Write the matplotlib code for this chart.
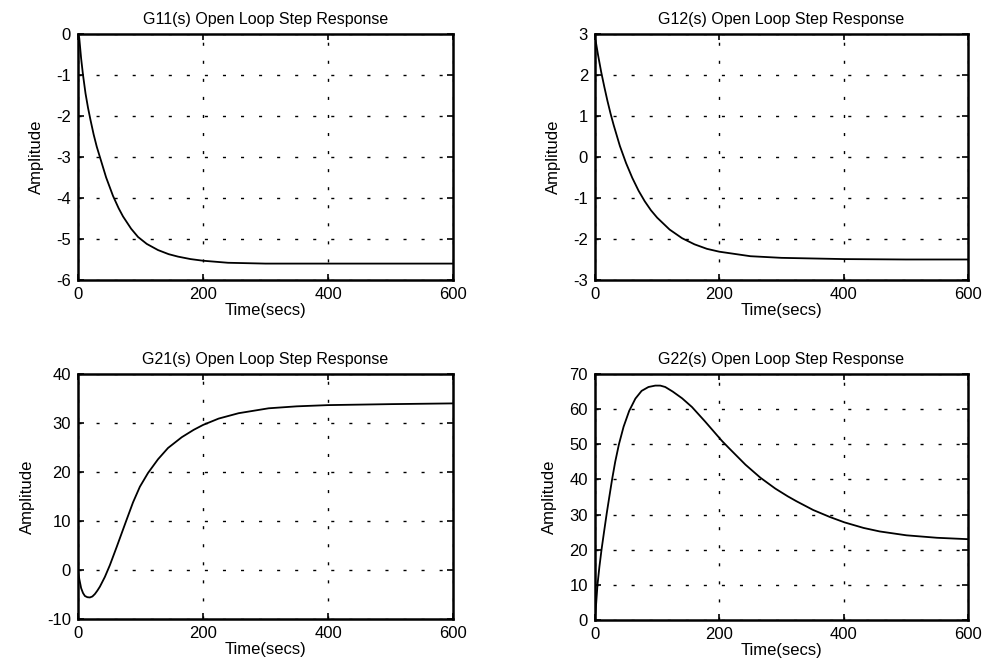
import numpy as np
import matplotlib.pyplot as plt

plt.rcParams['font.family'] = ['Liberation Sans', 'DejaVu Sans']
plt.rcParams['axes.unicode_minus'] = False

# step responses
t11 = [0, 2, 5, 8, 12, 16, 20, 25, 30, 36, 45, 56, 65, 72, 85, 96, 110, 128, 145, 160,
       180, 200, 240, 300, 400, 500, 600]
y11 = [0, -0.1, -0.6, -1.0, -1.45, -1.8, -2.1, -2.45, -2.75, -3.05, -3.5, -3.95, -4.25,
       -4.45, -4.75, -4.95, -5.12, -5.27, -5.37, -5.43, -5.49, -5.53, -5.58, -5.6, -5.6,
       -5.6, -5.6]

t12 = [0, 2, 5, 10, 15, 20, 25, 30, 40, 50, 60, 70, 80, 90, 100, 120, 140, 160, 180, 200,
       250, 300, 400, 500, 600]
y12 = [2.9, 2.75, 2.48, 2.07, 1.71, 1.37, 1.06, 0.78, 0.27, -0.15, -0.51, -0.82, -1.08,
       -1.3, -1.48, -1.77, -1.98, -2.13, -2.24, -2.31, -2.42, -2.46, -2.49, -2.5, -2.5]

t21 = [0, 2, 5, 8, 11, 15, 19, 23, 27, 31, 35, 43, 51, 62, 77, 88, 99, 112, 120, 128, 144,
       166, 185, 200, 225, 257, 305, 350, 400, 500, 600]
y21 = [0, -1.8, -3.7, -4.7, -5.3, -5.55, -5.6, -5.4, -4.9, -4.2, -3.4, -1.4, 1.0, 4.75,
       10.0, 13.8, 17.0, 19.8, 21.2, 22.6, 24.9, 27.1, 28.6, 29.6, 30.9, 32.0, 33.0, 33.4,
       33.65, 33.85, 34.0]

t22 = [0, 2, 4, 7, 10.5, 14.5, 19, 23, 27.5, 32.5, 38.5, 46, 55, 65, 75, 86, 97, 105,
       113, 125, 140, 156, 177, 204, 215, 242, 266, 290, 310, 324, 351, 378, 401, 432, 458,
       501, 550, 600]
y22 = [0, 5, 10, 15, 20, 25, 30.5, 35, 40, 45, 50, 55, 59.5, 63, 65.2, 66.3, 66.7, 66.7,
       66.3, 65.0, 63.1, 60.6, 56.5, 51.0, 49.0, 44.2, 40.5, 37.4, 35.2, 33.8, 31.3, 29.3,
       27.8, 26.2, 25.2, 24.1, 23.4, 23.0]

titles = ['G11(s) Open Loop Step Response', 'G12(s) Open Loop Step Response',
          'G21(s) Open Loop Step Response', 'G22(s) Open Loop Step Response']
ylims = [(-6, 0), (-3, 3), (-10, 40), (0, 70)]
yticks = [np.arange(-6, 1, 1), np.arange(-3, 4, 1), np.arange(-10, 41, 10), np.arange(0, 71, 10)]
xticks = [0, 200, 400, 600]

series = [(t11, y11), (t12, y12), (t21, y21), (t22, y22)]
boxes = [[0.0788, 0.5821, 0.3788, 0.3672],
         [0.6010, 0.5821, 0.3768, 0.3672],
         [0.0788, 0.0761, 0.3788, 0.3657],
         [0.6010, 0.0746, 0.3768, 0.3672]]

fig = plt.figure(figsize=(9.9, 6.7), dpi=100)
for i in range(4):
    ax = fig.add_axes(boxes[i])
    t, y = series[i]
    ax.plot(t, y, color='black', lw=1.3)
    ax.set_xlim(0, 600)
    ax.set_ylim(*ylims[i])
    ax.set_xticks(xticks)
    ax.set_yticks(yticks[i])
    ax.grid(True, color='black', lw=1.0, linestyle=(0, (2.2, 10.8)))
    ax.tick_params(direction='in', top=True, right=True, length=4, width=1.2,
                   labelsize=12, pad=5)
    for s in ax.spines.values():
        s.set_linewidth(1.8)
    ax.set_title(titles[i], fontsize=11.5, pad=7)
    ax.set_xlabel('Time(secs)', fontsize=12, labelpad=1)
    ax.set_ylabel('Amplitude', fontsize=12, labelpad=9)

plt.savefig('out.png', dpi=100)
